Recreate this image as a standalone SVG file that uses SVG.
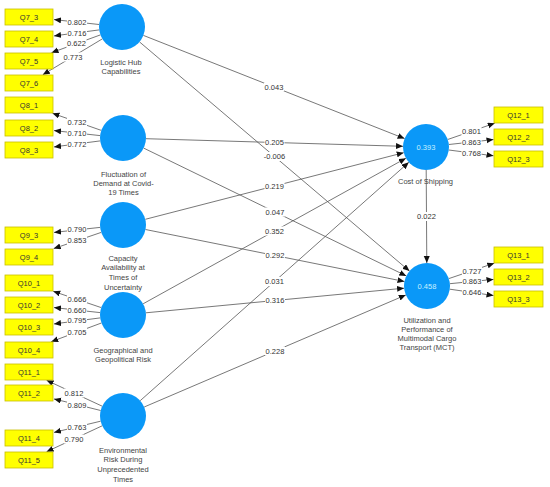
<svg xmlns="http://www.w3.org/2000/svg" width="550" height="487" viewBox="0 0 550 487">
<defs>
<marker id="ah" markerUnits="userSpaceOnUse" markerWidth="8" markerHeight="7" refX="7" refY="3" orient="auto"><path d="M0,0 L7,3 L0,6 z" fill="#111"/></marker>
<style>
.c{stroke:#555;stroke-width:0.8;fill:none;marker-end:url(#ah)}
.lv{fill:#0a98f8}
.ind rect{fill:#ffff00;stroke:#c9bf00;stroke-width:0.8}
.t{font-family:"Liberation Sans",Arial,sans-serif;font-size:7.5px;fill:#333;text-anchor:middle}
.nl{font-family:"Liberation Sans",Arial,sans-serif;font-size:7.5px;fill:#444;text-anchor:middle}
.r2{font-family:"Liberation Sans",Arial,sans-serif;font-size:7.5px;fill:#c8f0ff;text-anchor:middle}
.lb rect{fill:#fff}
</style>
</defs>
<rect width="550" height="487" fill="#fff"/>
<g id="connectors">
<line class="c" x1="143.4" y1="35.4" x2="404.6" y2="138.6"/>
<line class="c" x1="139.5" y1="41.9" x2="409.5" y2="271.1"/>
<line class="c" x1="146" y1="138.7" x2="403" y2="146.3"/>
<line class="c" x1="143.7" y1="148.1" x2="406.3" y2="275.9"/>
<line class="c" x1="145.3" y1="219.3" x2="403.7" y2="152.7"/>
<line class="c" x1="145.5" y1="229.5" x2="404.5" y2="281.5"/>
<line class="c" x1="143.1" y1="303.8" x2="405.9" y2="158.2"/>
<line class="c" x1="145.9" y1="312.8" x2="404.1" y2="288.2"/>
<line class="c" x1="140.2" y1="400.7" x2="408.8" y2="162.3"/>
<line class="c" x1="144.2" y1="407" x2="405.8" y2="295"/>
<line class="c" x1="426.2" y1="170" x2="426.8" y2="263"/>
<line class="c" x1="99.1" y1="24.5" x2="54" y2="19.6"/>
<line class="c" x1="99.2" y1="29.9" x2="54" y2="35.9"/>
<line class="c" x1="100.4" y1="34.9" x2="51.5" y2="52.7"/>
<line class="c" x1="102.3" y1="38.9" x2="42.8" y2="74.7"/>
<line class="c" x1="101.3" y1="130.4" x2="52.5" y2="113.3"/>
<line class="c" x1="100.1" y1="135.6" x2="54" y2="130.6"/>
<line class="c" x1="100.2" y1="140.9" x2="54" y2="146.9"/>
<line class="c" x1="100.1" y1="227.4" x2="54" y2="232.4"/>
<line class="c" x1="101.2" y1="232.4" x2="53.7" y2="248.6"/>
<line class="c" x1="101.2" y1="307.6" x2="53.2" y2="291.3"/>
<line class="c" x1="100.1" y1="312.6" x2="54" y2="307.6"/>
<line class="c" x1="100.2" y1="317.9" x2="54" y2="323.9"/>
<line class="c" x1="101.4" y1="323" x2="51.2" y2="341.7"/>
<line class="c" x1="102.2" y1="406.2" x2="46.6" y2="380.3"/>
<line class="c" x1="100.7" y1="410.5" x2="54" y2="398.9"/>
<line class="c" x1="100.6" y1="421.2" x2="54" y2="432.4"/>
<line class="c" x1="102.2" y1="425.8" x2="46.6" y2="451.7"/>
<line class="c" x1="447.7" y1="139.5" x2="494.8" y2="123.2"/>
<line class="c" x1="448.9" y1="144.5" x2="493.5" y2="139.6"/>
<line class="c" x1="448.8" y1="150" x2="493.5" y2="155.8"/>
<line class="c" x1="448.8" y1="278.6" x2="494.3" y2="263.2"/>
<line class="c" x1="449.9" y1="283.7" x2="493.5" y2="279.4"/>
<line class="c" x1="449.8" y1="289.2" x2="493.5" y2="295.5"/>
</g>
<g id="connector-labels" class="lb">
<rect x="264" y="82.5" width="20" height="9"/><text class="t" x="274" y="89.7">0.043</text>
<rect x="262.5" y="152" width="24" height="9"/><text class="t" x="274.5" y="159.2">-0.006</text>
<rect x="264.5" y="138" width="20" height="9"/><text class="t" x="274.5" y="145.2">0.205</text>
<rect x="265" y="207.5" width="20" height="9"/><text class="t" x="275" y="214.7">0.047</text>
<rect x="264.5" y="181.5" width="20" height="9"/><text class="t" x="274.5" y="188.7">0.219</text>
<rect x="265" y="251" width="20" height="9"/><text class="t" x="275" y="258.2">0.292</text>
<rect x="264.5" y="226.5" width="20" height="9"/><text class="t" x="274.5" y="233.7">0.352</text>
<rect x="265" y="296" width="20" height="9"/><text class="t" x="275" y="303.2">0.316</text>
<rect x="264.5" y="277" width="20" height="9"/><text class="t" x="274.5" y="284.2">0.031</text>
<rect x="265" y="346.5" width="20" height="9"/><text class="t" x="275" y="353.7">0.228</text>
<rect x="416.5" y="212" width="20" height="9"/><text class="t" x="426.5" y="219.2">0.022</text>
<rect x="67" y="18" width="20" height="9"/><text class="t" x="77" y="25.2">0.802</text>
<rect x="67" y="28.5" width="20" height="9"/><text class="t" x="77" y="35.7">0.716</text>
<rect x="66.5" y="39" width="20" height="9"/><text class="t" x="76.5" y="46.2">0.622</text>
<rect x="63" y="52.5" width="20" height="9"/><text class="t" x="73" y="59.7">0.773</text>
<rect x="67" y="117.5" width="20" height="9"/><text class="t" x="77" y="124.7">0.732</text>
<rect x="67" y="128.5" width="20" height="9"/><text class="t" x="77" y="135.7">0.710</text>
<rect x="67" y="139.5" width="20" height="9"/><text class="t" x="77" y="146.7">0.772</text>
<rect x="67" y="225" width="20" height="9"/><text class="t" x="77" y="232.2">0.790</text>
<rect x="67" y="236" width="20" height="9"/><text class="t" x="77" y="243.2">0.853</text>
<rect x="67" y="294.5" width="20" height="9"/><text class="t" x="77" y="301.7">0.666</text>
<rect x="67" y="306" width="20" height="9"/><text class="t" x="77" y="313.2">0.660</text>
<rect x="67" y="316" width="20" height="9"/><text class="t" x="77" y="323.2">0.795</text>
<rect x="67" y="328" width="20" height="9"/><text class="t" x="77" y="335.2">0.705</text>
<rect x="64" y="388.5" width="20" height="9"/><text class="t" x="74" y="395.7">0.812</text>
<rect x="67" y="400.5" width="20" height="9"/><text class="t" x="77" y="407.7">0.809</text>
<rect x="67" y="422.5" width="20" height="9"/><text class="t" x="77" y="429.7">0.763</text>
<rect x="64" y="434.5" width="20" height="9"/><text class="t" x="74" y="441.7">0.790</text>
<rect x="461.5" y="127" width="20" height="9"/><text class="t" x="471.5" y="134.2">0.801</text>
<rect x="461.5" y="138" width="20" height="9"/><text class="t" x="471.5" y="145.2">0.863</text>
<rect x="461.5" y="148.5" width="20" height="9"/><text class="t" x="471.5" y="155.7">0.768</text>
<rect x="462" y="266.5" width="20" height="9"/><text class="t" x="472" y="273.7">0.727</text>
<rect x="462" y="277" width="20" height="9"/><text class="t" x="472" y="284.2">0.863</text>
<rect x="462" y="288" width="20" height="9"/><text class="t" x="472" y="295.2">0.646</text>
</g>
<g id="lv-logistic-hub"><circle class="lv" cx="122" cy="27" r="23"/><text class="nl" x="121" y="64.5">Logistic Hub</text><text class="nl" x="121" y="73.8">Capabilities</text></g>
<g id="lv-fluctuation"><circle class="lv" cx="123" cy="138" r="23"/><text class="nl" x="123.5" y="176.7">Fluctuation of</text><text class="nl" x="123.5" y="186">Demand at Covid-</text><text class="nl" x="123.5" y="195.3">19 Times</text></g>
<g id="lv-capacity"><circle class="lv" cx="123" cy="225" r="23"/><text class="nl" x="123" y="260.5">Capacity</text><text class="nl" x="123" y="270.3">Availability at</text><text class="nl" x="123" y="280">Times of</text><text class="nl" x="123" y="290">Uncertainty</text></g>
<g id="lv-geo-risk"><circle class="lv" cx="123" cy="315" r="23"/><text class="nl" x="123" y="352.5">Geographical and</text><text class="nl" x="123" y="362">Geopolitical Risk</text></g>
<g id="lv-env-risk"><circle class="lv" cx="123" cy="416" r="23"/><text class="nl" x="123" y="452.7">Environmental</text><text class="nl" x="123" y="462">Risk During</text><text class="nl" x="123" y="471.7">Unprecedented</text><text class="nl" x="123" y="481.7">Times</text></g>
<g id="lv-cost-shipping"><circle class="lv" cx="426" cy="147" r="23"/><text class="r2" x="426" y="150">0.393</text><text class="nl" x="425.5" y="184.4">Cost of Shipping</text></g>
<g id="lv-mct"><circle class="lv" cx="427" cy="286" r="23"/><text class="r2" x="427" y="289">0.458</text><text class="nl" x="427" y="322.7">Utilization and</text><text class="nl" x="427" y="331.7">Performance of</text><text class="nl" x="427" y="341">Multimodal Cargo</text><text class="nl" x="427" y="350">Transport (MCT)</text></g>
<g id="ind-q7_3" class="ind"><rect x="5" y="9" width="48" height="16"/><text class="t" x="29" y="19.7">Q7_3</text></g>
<g id="ind-q7_4" class="ind"><rect x="5" y="31" width="48" height="16"/><text class="t" x="29" y="41.7">Q7_4</text></g>
<g id="ind-q7_5" class="ind"><rect x="5" y="53" width="48" height="16"/><text class="t" x="29" y="63.7">Q7_5</text></g>
<g id="ind-q7_6" class="ind"><rect x="5" y="75" width="48" height="16"/><text class="t" x="29" y="85.7">Q7_6</text></g>
<g id="ind-q8_1" class="ind"><rect x="5" y="97" width="48" height="16"/><text class="t" x="29" y="107.7">Q8_1</text></g>
<g id="ind-q8_2" class="ind"><rect x="5" y="120" width="48" height="16"/><text class="t" x="29" y="130.7">Q8_2</text></g>
<g id="ind-q8_3" class="ind"><rect x="5" y="142" width="48" height="16"/><text class="t" x="29" y="152.7">Q8_3</text></g>
<g id="ind-q9_3" class="ind"><rect x="5" y="227" width="48" height="16"/><text class="t" x="29" y="237.7">Q9_3</text></g>
<g id="ind-q9_4" class="ind"><rect x="5" y="249" width="48" height="16"/><text class="t" x="29" y="259.7">Q9_4</text></g>
<g id="ind-q10_1" class="ind"><rect x="5" y="275" width="48" height="16"/><text class="t" x="29" y="285.7">Q10_1</text></g>
<g id="ind-q10_2" class="ind"><rect x="5" y="297" width="48" height="16"/><text class="t" x="29" y="307.7">Q10_2</text></g>
<g id="ind-q10_3" class="ind"><rect x="5" y="319" width="48" height="16"/><text class="t" x="29" y="329.7">Q10_3</text></g>
<g id="ind-q10_4" class="ind"><rect x="5" y="342" width="48" height="16"/><text class="t" x="29" y="352.7">Q10_4</text></g>
<g id="ind-q11_1" class="ind"><rect x="5" y="364" width="48" height="16"/><text class="t" x="29" y="374.7">Q11_1</text></g>
<g id="ind-q11_2" class="ind"><rect x="5" y="385" width="48" height="16"/><text class="t" x="29" y="395.7">Q11_2</text></g>
<g id="ind-q11_4" class="ind"><rect x="5" y="430" width="48" height="16"/><text class="t" x="29" y="440.7">Q11_4</text></g>
<g id="ind-q11_5" class="ind"><rect x="5" y="452" width="48" height="16"/><text class="t" x="29" y="462.7">Q11_5</text></g>
<g id="ind-q12_1" class="ind"><rect x="494" y="107" width="49" height="16"/><text class="t" x="518.5" y="117.7">Q12_1</text></g>
<g id="ind-q12_2" class="ind"><rect x="494" y="129" width="49" height="16"/><text class="t" x="518.5" y="139.7">Q12_2</text></g>
<g id="ind-q12_3" class="ind"><rect x="494" y="151" width="49" height="16"/><text class="t" x="518.5" y="161.7">Q12_3</text></g>
<g id="ind-q13_1" class="ind"><rect x="494" y="247" width="49" height="16"/><text class="t" x="518.5" y="257.7">Q13_1</text></g>
<g id="ind-q13_2" class="ind"><rect x="494" y="269" width="49" height="16"/><text class="t" x="518.5" y="279.7">Q13_2</text></g>
<g id="ind-q13_3" class="ind"><rect x="494" y="291" width="49" height="16"/><text class="t" x="518.5" y="301.7">Q13_3</text></g>
</svg>
